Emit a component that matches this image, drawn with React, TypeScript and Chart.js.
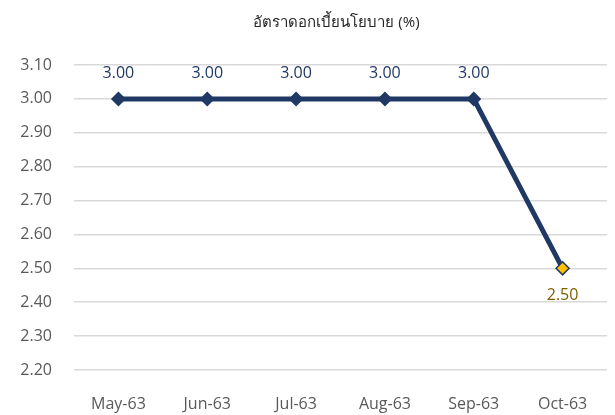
import React, { useEffect, useRef } from "react";
import { Chart, registerables } from "chart.js";

Chart.register(...registerables);

const categories = ["May-63", "Jun-63", "Jul-63", "Aug-63", "Sep-63", "Oct-63"];
const policyRate = [3.0, 3.0, 3.0, 3.0, 3.0, 2.5];
const titleText = "อัตราดอกเบี้ยนโยบาย (%)";

const NAVY = "#203864";
const GOLD = "#FFC000";
const GOLD_TEXT = "#7F6000";
const FONT = "'Open Sans', 'Noto Sans', Tahoma, sans-serif";

const labelPlugin = {
  id: "pointLabels",
  afterDatasetsDraw(chart: any) {
    const ctx = chart.ctx;
    const meta = chart.getDatasetMeta(0);
    const data = chart.data.datasets[0].data as number[];
    ctx.save();
    ctx.textAlign = "center";
    ctx.textBaseline = "middle";
    meta.data.forEach((pt: any, i: number) => {
      const last = i === data.length - 1;
      ctx.font = `16px ${FONT}`;
      ctx.fillStyle = last ? GOLD_TEXT : NAVY;
      const y = last ? pt.y + 27 : pt.y - 25;
      ctx.fillText(data[i].toFixed(2), pt.x, y);
    });
    // title centred over plot area
    const ca = chart.chartArea;
    ctx.font = `15px ${FONT}`;
    ctx.fillStyle = "#262626";
    ctx.fillText(titleText, (ca.left + ca.right) / 2 - 4, 23);
    ctx.restore();
  },
};

export default function App() {
  const ref = useRef<HTMLCanvasElement | null>(null);
  useEffect(() => {
    document.body.style.margin = "0";
    const last = policyRate.length - 1;
    const chart = new Chart(ref.current!, {
      type: "line",
      data: {
        labels: categories,
        datasets: [
          {
            data: policyRate,
            borderColor: NAVY,
            borderWidth: 5,
            pointStyle: "rectRot",
            pointRadius: policyRate.map((_, i) => (i === last ? 6.5 : 7.5)),
            pointBackgroundColor: policyRate.map((_, i) => (i === last ? GOLD : NAVY)),
            pointBorderColor: NAVY,
            pointBorderWidth: policyRate.map((_, i) => (i === last ? 1.5 : 0)),
            tension: 0,
          },
        ],
      },
      options: {
        animation: false,
        responsive: false,
        layout: { padding: { left: 0, right: 4, top: 65, bottom: 0 } },
        plugins: {
          legend: { display: false },
          tooltip: { enabled: false },
          title: { display: false },
        },
        scales: {
          x: {
            offset: true,
            grid: { display: false },
            border: { display: false },
            ticks: { color: "#595959", font: { family: FONT, size: 16 }, padding: 17 },
            afterFit: (s: any) => {
              s.height = 45;
            },
          },
          y: {
            min: 2.2,
            max: 3.1,
            grid: { color: "#D9D9D9", lineWidth: 1.5, drawTicks: false },
            border: { display: false },
            ticks: {
              stepSize: 0.1,
              color: "#595959",
              font: { family: FONT, size: 16 },
              padding: 22,
              callback: (v: any) => Number(v).toFixed(2),
            },
            afterFit: (s: any) => {
              s.width = 74;
            },
          },
        },
      },
      plugins: [labelPlugin],
    });
    return () => chart.destroy();
  }, []);
  return (
    <div style={{ width: 615, height: 415, background: "#fff" }}>
      <canvas ref={ref} width={615} height={415} />
    </div>
  );
}
